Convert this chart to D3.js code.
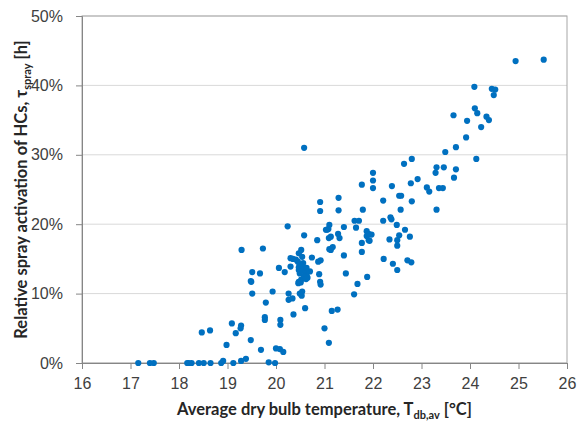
<!DOCTYPE html>
<html>
<head>
<meta charset="utf-8">
<script src="https://cdn.jsdelivr.net/npm/d3@7"></script>
<style>
  body { margin: 0; background: #fff; }
  svg { font-family: Lato, "Open Sans", sans-serif; }
</style>
</head>
<body>
<div id="app"></div>
<script>
// average dry bulb temperature [°C]
let temps = [
  17.16, 17.40, 17.48, 18.17, 18.20, 18.26, 18.41, 18.51, 18.65, 18.87, 18.91, 19.12, 19.28, 19.38, 19.85, 19.98,
  18.47, 18.64, 18.98, 19.09, 19.17, 19.27, 19.28, 19.48, 19.69, 20.00, 20.08, 20.15, 19.77, 19.77, 20.09, 20.09,
  20.36, 20.60, 21.15, 21.27, 21.00, 21.09,
  19.49, 19.51, 19.79, 19.93, 20.26, 20.26, 20.34, 20.46, 20.49, 20.53, 20.54, 19.48, 19.51, 19.67, 19.29, 19.73,
  20.06, 20.18, 20.24, 20.30, 20.35, 20.30, 20.41, 20.45, 20.47, 20.52, 20.54, 20.49, 20.54, 20.56, 20.47, 20.49,
  20.54, 20.60, 20.63, 20.65, 20.70, 20.47, 20.52, 20.58, 20.74, 20.85, 20.87, 20.92, 20.89, 20.91, 20.92, 20.91,
  20.91, 21.03, 21.08, 21.10, 20.58, 20.47, 20.54, 20.58, 20.62, 20.51, 20.63,
  22.00, 22.00, 22.00, 21.77, 21.29, 21.29, 21.79, 21.62, 21.71, 21.65, 21.40, 21.10, 21.05, 21.09, 21.13, 21.28,
  21.31, 21.17, 21.13, 21.40, 21.87, 21.91, 21.87, 21.91, 21.77, 21.77, 21.44, 21.88, 21.61, 21.68, 21.97, 21.93,
  22.80, 22.64, 22.92, 22.78, 23.11, 23.16, 23.36, 23.44, 23.31, 22.80, 22.57, 22.54, 22.58, 22.39, 22.21, 22.21,
  22.36, 22.38, 22.49, 22.66, 22.54, 22.76, 22.34, 22.50, 22.50, 22.22, 22.41, 22.50, 22.71, 22.79,
  23.71, 23.49, 23.31, 23.46, 23.29, 23.71, 23.67, 23.92, 24.13, 24.94, 25.52, 24.09, 24.45, 24.52, 24.49, 24.10,
  24.15, 23.66, 23.94, 24.34, 24.39, 24.23
];

// relative spray activation [%]
let spray = [
  0, 0, 0, 0, 0, 0, 0, 0, 0, 0, 0.3, 0, 0.3, 0.6, 0.1, 0,
  4.4, 4.7, 2.6, 5.7, 4.3, 5.0, 5.4, 3.3, 1.9, 2.1, 2.0, 1.6, 6.6, 6.2, 6.2, 5.5,
  7.0, 7.9, 7.5, 7.7, 5.0, 2.9,
  11.7, 10.0, 8.7, 10.3, 10.0, 9.1, 9.3, 11.5, 10.0, 9.7, 10.3, 11.8, 13.1, 12.9, 16.3, 16.5,
  13.7, 13.1, 19.7, 15.1, 15.0, 13.9, 14.9, 14.6, 15.8, 16.3, 15.3, 14.2, 14.1, 14.4, 13.4, 12.9,
  13.3, 13.2, 12.7, 12.3, 13.2, 11.7, 12.0, 18.4, 15.2, 17.7, 14.6, 14.8, 12.8, 11.7, 11.3, 21.9,
  23.2, 19.2, 19.3, 16.4, 31.0, 13.8, 13.9, 12.5, 12.1, 11.6, 13.7,
  27.4, 26.3, 25.2, 25.7, 23.8, 22.0, 22.1, 20.5, 20.5, 19.5, 19.6, 19.9, 19.2, 18.0, 18.2, 18.6,
  18.0, 16.7, 16.3, 15.5, 19.0, 18.6, 18.3, 17.7, 17.3, 16.0, 12.9, 12.4, 9.9, 11.4, 18.5, 17.6,
  29.4, 28.7, 26.5, 25.9, 25.3, 24.7, 25.2, 25.2, 22.1, 23.3, 22.1, 24.1, 24.1, 25.5, 23.4, 20.5,
  21.0, 20.7, 19.9, 19.2, 18.4, 18.2, 17.8, 17.7, 16.9, 15.0, 14.3, 13.4, 14.8, 14.5,
  31.1, 30.4, 28.2, 28.2, 27.4, 27.9, 26.7, 32.5, 29.4, 43.5, 43.7, 39.8, 39.5, 39.4, 38.6, 36.7,
  36.0, 35.7, 34.9, 35.5, 35.0, 34.0
];

let xTicks = [16, 17, 18, 19, 20, 21, 22, 23, 24, 25, 26];
let yTicks = [0, 10, 20, 30, 40, 50];

let points = temps.map(function(t, i) { return { t: t, s: spray[i] }; });

let margin = { top: 16, right: 18, bottom: 60, left: 82 };
let width = 585 - margin.left - margin.right;
let height = 423 - margin.top - margin.bottom;

let svg = d3.select('#app').append('svg')
    .attr('width', 585)
    .attr('height', 423);

let chart = svg.append('g')
    .attr('transform', `translate(${margin.left}, ${margin.top})`);

let xScale = d3.scaleLinear()
               .domain([16, 26])
               .range([0, width]);

let yScale = d3.scaleLinear()
               .domain([0, 50])
               .range([height, 0]);

// gridlines
chart.append('g')
  .selectAll('line')
  .data(yTicks)
  .enter()
  .append('line')
    .attr('x1', 0)
    .attr('x2', width)
    .attr('y1', d => yScale(d))
    .attr('y2', d => yScale(d))
    .style('stroke', '#d9d9d9')
    .style('stroke-width', 1);

// plot area border
chart.append('rect')
  .attr('x', 0)
  .attr('y', 0)
  .attr('width', width)
  .attr('height', height)
  .style('fill', 'none')
  .style('stroke', '#a6a6a6')
  .style('stroke-width', 1);

// axes
let xAxis = d3.axisBottom(xScale)
              .tickValues(xTicks)
              .tickSize(6)
              .tickPadding(9)
              .tickFormat(d3.format('d'));

let yAxis = d3.axisLeft(yScale)
              .tickValues(yTicks)
              .tickSize(6)
              .tickPadding(13)
              .tickFormat(d => d + '%');

let xGuide = chart.append('g')
  .attr('transform', `translate(0, ${height})`)
  .call(xAxis);

let yGuide = chart.append('g')
  .call(yAxis);

[xGuide, yGuide].forEach(function(g) {
  g.selectAll('path').style('stroke', '#868686');
  g.selectAll('line').style('stroke', '#868686');
  g.selectAll('text')
    .style('font-size', '16px')
    .style('fill', '#404040');
});

// points
chart.append('g')
  .selectAll('circle')
  .data(points)
  .enter()
  .append('circle')
    .attr('cx', d => xScale(d.t))
    .attr('cy', d => yScale(d.s))
    .attr('r', 3.1)
    .style('fill', '#0070c0');

// axis titles
let xTitle = svg.append('text')
  .attr('x', margin.left + width / 2)
  .attr('y', 415)
  .attr('text-anchor', 'middle')
  .style('font-size', '16.5px')
  .style('font-weight', 'bold')
  .style('fill', '#262626');
xTitle.append('tspan').text('Average dry bulb temperature, T');
xTitle.append('tspan').attr('dy', 4).style('font-size', '11px').text('db,av');
xTitle.append('tspan').attr('dy', -4).text(' [°C]');

let yTitle = svg.append('text')
  .attr('transform', `translate(27, ${margin.top + height / 2}) rotate(-90)`)
  .attr('text-anchor', 'middle')
  .style('font-size', '16.5px')
  .style('font-weight', 'bold')
  .style('fill', '#262626');
yTitle.append('tspan').text('Relative spray activation of HCs, τ');
yTitle.append('tspan').attr('dy', 4).style('font-size', '11px').text('spray');
yTitle.append('tspan').attr('dy', -4).text(' [h]');
</script>
</body>
</html>
